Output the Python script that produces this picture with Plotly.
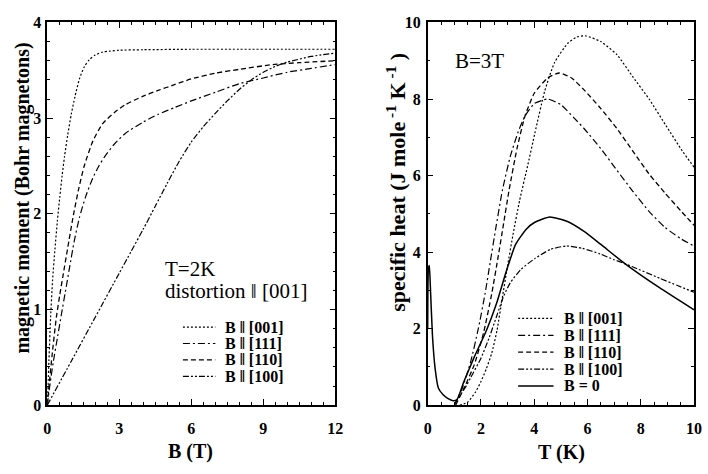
import plotly.graph_objects as go

# ---------------- data: left panel (T = 2 K) ----------------
B_001 = [0, 0.07, 0.14, 0.22, 0.32, 0.42, 0.52, 0.62, 0.72, 0.85, 1.0, 1.15, 1.34, 1.55, 1.75, 2.0, 2.3, 2.6, 3.0, 4.0, 6.0, 8.0, 10.0, 12.0]
m_001 = [0, 0.47, 0.92, 1.30, 1.63, 1.92, 2.17, 2.40, 2.60, 2.82, 3.04, 3.22, 3.41, 3.54, 3.61, 3.66, 3.69, 3.70, 3.71, 3.715, 3.72, 3.72, 3.72, 3.72]

B_111 = [0, 0.12, 0.25, 0.42, 0.59, 0.75, 0.93, 1.12, 1.34, 1.6, 1.89, 2.15, 2.4, 2.8, 3.25, 4.0, 4.62, 5.3, 6.0, 7.0, 8.0, 9.0, 10.0, 11.0, 12.0]
m_111 = [0, 0.23, 0.45, 0.70, 0.95, 1.18, 1.44, 1.71, 1.96, 2.18, 2.37, 2.50, 2.60, 2.73, 2.84, 2.96, 3.04, 3.11, 3.18, 3.27, 3.36, 3.42, 3.48, 3.52, 3.56]

B_110 = [0, 0.1, 0.2, 0.38, 0.52, 0.66, 0.85, 1.07, 1.3, 1.54, 1.9, 2.3, 2.8, 3.25, 4.0, 4.62, 5.3, 6.0, 7.0, 8.0, 9.4, 10.5, 12.0]
m_110 = [0, 0.27, 0.52, 0.92, 1.15, 1.36, 1.64, 1.96, 2.25, 2.50, 2.76, 2.94, 3.06, 3.14, 3.23, 3.29, 3.35, 3.41, 3.47, 3.51, 3.56, 3.58, 3.60]

B_100 = [0, 1, 2, 3, 3.5, 4.0, 4.5, 5.0, 5.5, 6.0, 6.5, 7.0, 7.5, 8.0, 8.5, 9.0, 9.5, 10.0, 11.0, 12.0]
m_100 = [0, 0.46, 0.92, 1.38, 1.61, 1.84, 2.08, 2.32, 2.55, 2.75, 2.91, 3.05, 3.18, 3.30, 3.40, 3.48, 3.54, 3.585, 3.645, 3.68]

# ---------------- data: right panel (B = 3 T) ----------------
T_001 = [1.2, 1.5, 1.8, 2.0, 2.2, 2.4, 2.6, 2.8, 3.0, 3.2, 3.45, 3.75, 4.02, 4.39, 4.76, 5.25, 5.6, 5.93, 6.5, 7.1, 7.71, 8.33, 8.94, 9.56, 10.0]
C_001 = [0, 0.08, 0.35, 0.62, 0.95, 1.35, 1.95, 2.8, 3.65, 4.45, 5.35, 6.25, 7.1, 8.2, 8.95, 9.45, 9.62, 9.65, 9.5, 9.16, 8.57, 7.98, 7.31, 6.64, 6.22]

T_111 = [1.0, 1.3, 1.6, 1.9, 2.15, 2.35, 2.55, 2.8, 3.1, 3.4, 3.65, 4.0, 4.5, 5.0, 5.5, 5.87, 6.5, 7.1, 7.7, 8.3, 8.9, 9.5, 10.0]
C_111 = [0, 0.45, 1.1, 2.0, 2.9, 3.75, 4.6, 5.6, 6.5, 7.15, 7.55, 7.88, 8.0, 7.85, 7.5, 7.23, 6.7, 6.14, 5.59, 5.07, 4.65, 4.35, 4.16]

T_110 = [1.05, 1.4, 1.75, 2.1, 2.4, 2.65, 2.85, 3.05, 3.35, 3.65, 4.0, 4.5, 4.94, 5.4, 5.87, 6.5, 7.1, 7.7, 8.3, 8.9, 9.5, 10.0]
C_110 = [0, 0.5, 1.06, 1.9, 2.9, 3.9, 4.75, 5.6, 6.7, 7.55, 8.15, 8.55, 8.68, 8.55, 8.24, 7.75, 7.23, 6.64, 6.05, 5.55, 5.08, 4.7]

T_100 = [1.0, 1.13, 1.4, 1.62, 2.0, 2.3, 2.6, 2.85, 3.1, 3.5, 4.02, 4.6, 5.2, 5.8, 6.48, 7.0, 7.4, 7.71, 8.7, 9.4, 10.0]
C_100 = [0.03, 0.17, 0.45, 0.73, 1.23, 1.75, 2.35, 2.85, 3.2, 3.55, 3.83, 4.07, 4.16, 4.1, 3.95, 3.8, 3.70, 3.61, 3.32, 3.12, 2.95]

T_0 = [0.0, 0.03, 0.06, 0.1, 0.18, 0.28, 0.4, 0.57, 0.75, 0.95, 1.1, 1.36, 1.73, 2.22, 2.58, 2.95, 3.3, 3.7, 4.02, 4.58, 5.25, 5.87, 6.5, 7.4, 8.7, 10.0]
C_0 = [2.0, 3.6, 3.65, 3.1, 1.8, 0.95, 0.45, 0.28, 0.18, 0.12, 0.15, 0.62, 1.23, 1.98, 2.65, 3.5, 4.2, 4.6, 4.78, 4.92, 4.8, 4.54, 4.2, 3.70, 3.07, 2.49]

labels = ["B \u2016 [001]", "B \u2016 [111]", "B \u2016 [110]", "B \u2016 [100]", "B = 0"]

# ---------------- styles ----------------
FONT = "Liberation Serif, Times New Roman, serif"
DOT = "2px,2px"
DASHDOT = "7px,3px,2px,3px"
DASH = "5px,3px"
DASHDOTDOT = "6px,2px,2px,2px,2px,2px"
styles = [DOT, DASHDOT, DASH, DASHDOTDOT, "solid"]
widths = [1.2, 1.2, 1.3, 1.2, 1.5]

W, H = 708, 474
def px(x):
    return x / W
def py(y):
    return 1 - y / H

fig = go.Figure()

left = [(B_001, m_001), (B_111, m_111), (B_110, m_110), (B_100, m_100)]
for i, (x, y) in enumerate(left):
    fig.add_trace(go.Scatter(x=x, y=y, mode="lines", xaxis="x", yaxis="y",
                             line=dict(color="black", width=widths[i], dash=styles[i], shape="spline", smoothing=0.6),
                             showlegend=False))

right = [(T_001, C_001), (T_111, C_111), (T_110, C_110), (T_100, C_100), (T_0, C_0)]
for i, (x, y) in enumerate(right):
    fig.add_trace(go.Scatter(x=x, y=y, mode="lines", xaxis="x2", yaxis="y2",
                             line=dict(color="black", width=widths[i], dash=styles[i], shape="spline", smoothing=0.5),
                             showlegend=False))

def axis(rng, dtick, mdtick, domain, anchor, standoff):
    return dict(range=rng, dtick=dtick, domain=domain, anchor=anchor,
                showgrid=False, zeroline=False, showline=True, linecolor="black", linewidth=1.5,
                mirror="allticks", ticks="inside", ticklen=6, tickwidth=1.2, tickcolor="black",
                ticklabelstandoff=standoff,
                minor=dict(dtick=mdtick, ticks="inside", ticklen=3, tickwidth=1, tickcolor="black", showgrid=False),
                tickfont=dict(family=FONT, size=16, color="black", weight="bold"))

ydom = [1 - 412 / H, 1 - 15 / H]
fig.update_layout(
    width=W, height=H, margin=dict(l=0, r=0, t=0, b=0),
    paper_bgcolor="white", plot_bgcolor="white",
    xaxis=axis([0, 12], 3, 0.5, [px(44), px(337)], "y", 8),
    yaxis=axis([0, 4], 1, 0.2, ydom, "x", 1),
    xaxis2=axis([0, 10], 2, 0.5, [px(431), px(702)], "y2", 8),
    yaxis2=axis([0, 10], 2, 1, ydom, "x2", 2),
)

ann = []
def text(x, y, s, size, bold=False, angle=0, xanchor="center"):
    ann.append(dict(x=px(x), y=py(y), xref="paper", yref="paper", text=s, showarrow=False,
                    xanchor=xanchor, yanchor="middle", textangle=angle,
                    font=dict(family=FONT, size=size, color="black", weight="bold" if bold else "normal")))

# axis titles
text(190, 460, "B (T)", 20, bold=True)
text(567, 461, "T (K)", 20, bold=True)
text(19, 197, "magnetic moment (Bohr magnetons)", 20, bold=True, angle=-90)
text(398, 181, "specific heat (J\u00a0mole<sup>\u00a0-1</sup>\u00a0K<sup>\u00a0-1</sup>\u00a0)", 22, bold=True, angle=-90)

# in-plot labels
text(162, 271, "T=2K", 21, xanchor="left")
text(162, 294, "distortion \u2016 [001]", 21, xanchor="left")
text(457, 55, "B=3T", 21, xanchor="left")

shapes = []
# left legend
ly = [331, 348, 365, 382]
for i, yy in enumerate(ly):
    shapes.append(dict(type="line", xref="paper", yref="paper", x0=px(182), x1=px(215), y0=py(yy), y1=py(yy),
                       line=dict(color="black", width=widths[i], dash=styles[i])))
    text(223, yy, labels[i], 16, bold=True, xanchor="left")
# right legend
ry = [322, 339.5, 357, 374.5, 392]
for i, yy in enumerate(ry):
    shapes.append(dict(type="line", xref="paper", yref="paper", x0=px(523), x1=px(559), y0=py(yy), y1=py(yy),
                       line=dict(color="black", width=widths[i], dash=styles[i])))
    text(568, yy, labels[i], 16, bold=True, xanchor="left")

fig.update_layout(annotations=ann, shapes=shapes)
fig.write_html("out.html")
